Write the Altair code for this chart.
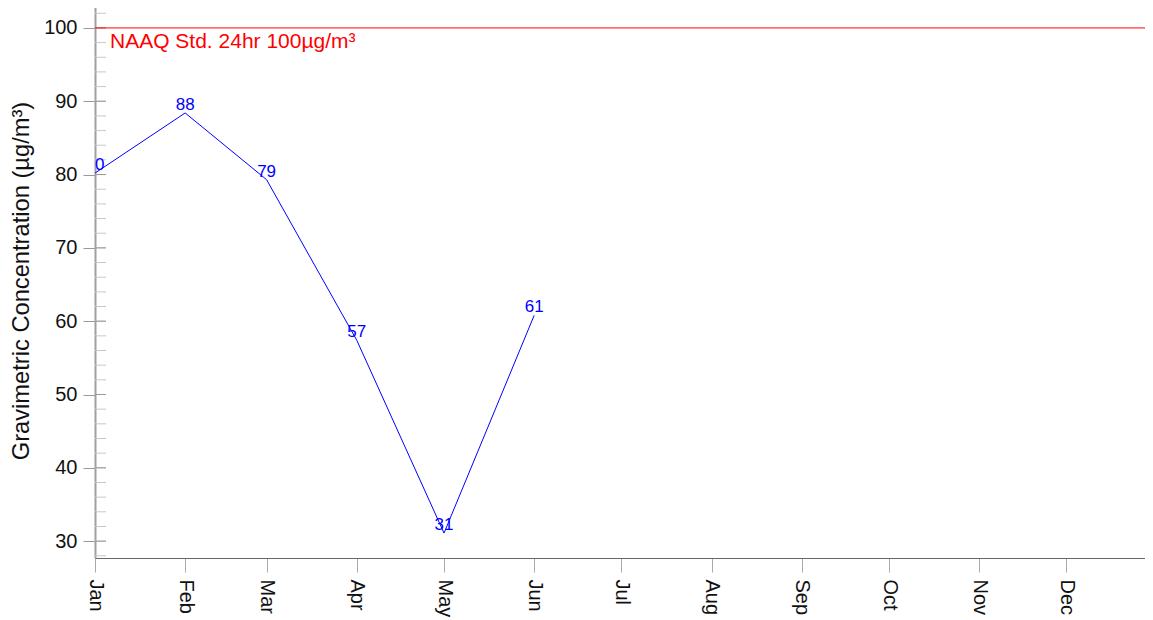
import altair as alt
import pandas as pd

# ---- data ----
dates = ["2023-01-01", "2023-02-01", "2023-03-01", "2023-04-01", "2023-05-01", "2023-06-01"]
values = [80.2, 88.4, 79.3, 57.4, 31.1, 60.8]
std_values = [100]
std_labels = ["NAAQ Std. 24hr 100µg/m³"]
major_ticks = [30, 40, 50, 60, 70, 80, 90, 100]
minor_ticks = [28, 30, 32, 34, 36, 38, 40, 42, 44, 46, 48, 50, 52, 54, 56, 58, 60,
               62, 64, 66, 68, 70, 72, 74, 76, 78, 80, 82, 84, 86, 88, 90, 92, 94,
               96, 98, 100, 102]

FONT = "Liberation Sans"

df = pd.DataFrame({"date": dates, "value": values})
std_df = pd.DataFrame({"value": std_values, "label": std_labels})
major_df = pd.DataFrame({"value": major_ticks})
minor_df = pd.DataFrame({"value": minor_ticks})
frame_df = pd.DataFrame({"value": [103.4]})

x_enc = alt.X(
    "date:T",
    scale=alt.Scale(
        type="utc",
        domain=[alt.DateTime(year=2023, month=1, date=1, utc=True),
                alt.DateTime(year=2023, month=12, date=28, utc=True)],
    ),
    axis=alt.Axis(
        title=None,
        format="%b",
        tickCount=alt.TimeIntervalStep(interval="month", step=1),
        labelAngle=90,
        labelAlign="left",
        labelBaseline="middle",
        labelFontSize=20,
        labelColor="#111111",
        labelPadding=7,
        tickSize=14,
        tickColor="#aaaaaa",
        domainColor="#666666",
        grid=False,
        labelFont=FONT,
    ),
)

y_enc = alt.Y(
    "value:Q",
    scale=alt.Scale(domain=[27.7, 103.4], nice=False, zero=False),
    axis=alt.Axis(
        title="Gravimetric Concentration (µg/m³)",
        values=major_ticks,
        tickSize=12,
        tickColor="#999999",
        domainColor="#a0a0a0",
        domainWidth=2,
        labelFontSize=20,
        labelColor="#111111",
        labelPadding=6,
        titleFontSize=23.7,
        titleFontWeight="normal",
        titleColor="#111111",
        titlePadding=10,
        grid=False,
        labelFont=FONT,
        titleFont=FONT,
    ),
)

minor = alt.Chart(minor_df).mark_rule(color="#c8c8c8", strokeWidth=1).encode(
    y=y_enc, x=alt.value(0), x2=alt.value(11)
)
major = alt.Chart(major_df).mark_rule(color="#999999", strokeWidth=1).encode(
    y=y_enc, x=alt.value(0), x2=alt.value(11)
)
frame = alt.Chart(frame_df).mark_rule(color="#888888", strokeWidth=1).encode(y=y_enc)

std_rule = alt.Chart(std_df).mark_rule(color="#ff0000", strokeWidth=1).encode(y=y_enc)
std_text = alt.Chart(std_df).mark_text(
    color="#ff0000", align="left", baseline="top", dy=3, fontSize=21, font=FONT
).encode(y=y_enc, x=alt.value(15), text="label:N")

line = alt.Chart(df).mark_line(color="#0000ff", strokeWidth=1).encode(x=x_enc, y=y_enc)
labels = alt.Chart(df).mark_text(
    color="#0000ff", fontSize=17, baseline="bottom", dy=1, clip=True, font=FONT
).encode(x=x_enc, y=y_enc, text=alt.Text("value:Q", format=".0f"))

chart = (
    alt.layer(minor, major, frame, std_rule, std_text, line, labels)
    .properties(
        width=1050,
        height=555,
        autosize=alt.AutoSizeParams(type="none"),
        padding={"left": 87, "top": -5, "right": 0, "bottom": 62},
        background="white",
    )
    .configure_view(strokeWidth=0)
    .configure(font=FONT)
)

chart.save("out.html", embed_options={"renderer": "svg", "actions": False})
